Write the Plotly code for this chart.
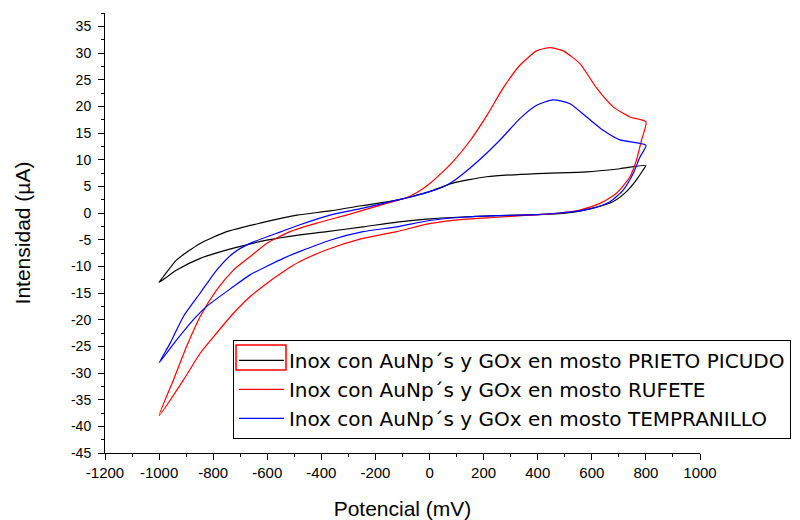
import plotly.graph_objects as go

# PRIETO PICUDO (black): forward then return scan
pp_x = [-1000, -985, -935, -848, -750, -627, -490, -368, -246, -120, 0, 86, 211, 396, 581, 704, 800,
        790, 765, 728, 678, 604, 544, 480, 400, 250, 100, 0, -120, -246, -380, -479, -602, -725, -848, -935, -1000]
pp_y = [-13.0, -12.0, -8.8, -5.7, -3.5, -1.9, -0.4, 0.4, 1.4, 2.4, 4.0, 5.6, 6.8, 7.4, 7.7, 8.3, 8.9,
        8.1, 6.2, 4.0, 2.1, 0.9, 0.25, -0.1, -0.3, -0.5, -0.8, -1.1, -1.7, -2.6, -3.5, -4.1, -5.1, -6.6, -8.5, -10.7, -13.0]

# RUFETE (red)
ru_x = [-1000, -947, -898, -848, -787, -725, -664, -602, -516, -417, -300, -200, -122, -70, -35, 0, 40, 86, 149, 211,
        272, 334, 396, 445, 494, 556, 618, 679, 741, 800,
        784, 765, 741, 691, 630, 556, 480, 400, 250, 123, 0, -122, -257, -380, -479, -541, -602, -664, -725, -787,
        -848, -910, -1000]
ru_y = [-38.0, -31.3, -25.0, -19.4, -14.4, -10.7, -8.2, -5.7, -3.5, -1.9, -0.3, 1.2, 2.3, 3.2, 4.2, 5.5, 7.3, 9.6, 13.5, 18.2,
        23.4, 27.7, 30.4, 31.0, 30.4, 28.0, 23.4, 19.9, 18.0, 17.1,
        13.7, 9.9, 6.8, 3.7, 1.8, 0.56, 0.0, -0.3, -0.8, -1.2, -2.0, -3.5, -4.9, -6.9, -9.1, -11.0, -13.2, -15.7, -18.8, -22.5,
        -26.3, -31.3, -38.0]

# TEMPRANILLO (blue)
te_x = [-1000, -959, -910, -848, -787, -725, -664, -565, -479, -368, -246, -122, -72, 0, 63, 86, 149, 211, 272, 334, 396,
        457, 519, 581, 642, 704, 800,
        778, 753, 716, 667, 605, 540, 480, 400, 250, 123, 0, -122, -246, -368, -479, -541, -602, -664, -725, -824, -873,
        -935, -1000]
te_y = [-28.1, -24.4, -19.4, -15.0, -10.7, -7.5, -5.7, -3.8, -2.2, -0.4, 0.9, 2.4, 3.0, 4.0, 5.2, 5.9, 8.4, 11.2, 14.3, 17.7, 20.2,
        21.2, 20.5, 18.0, 15.5, 13.7, 12.7,
        10.5, 7.4, 4.3, 2.1, 0.9, 0.3, 0.0, -0.3, -0.5, -0.8, -1.4, -2.6, -3.5, -5.1, -7.2, -8.5, -10.0, -11.6, -13.8, -17.5, -20.0,
        -23.8, -28.1]

names = ["Inox con AuNp´s y GOx en mosto PRIETO PICUDO",
         "Inox con AuNp´s y GOx en mosto RUFETE",
         "Inox con AuNp´s y GOx en mosto TEMPRANILLO"]
colors = ["#000000", "#ff0000", "#0000ff"]

x_tickvals = [-1200, -1000, -800, -600, -400, -200, 0, 200, 400, 600, 800, 1000]
x_ticktext = ["-1200", "-1000", "-800", "-600", "-400", "-200", "0", "200", "400", "600", "800", "1000"]
y_tickvals = [-45, -40, -35, -30, -25, -20, -15, -10, -5, 0, 5, 10, 15, 20, 25, 30, 35]
y_ticktext = ["-45", "-40", "-35", "-30", "-25", "-20", "-15", "-10", "-5", "0", "5", "10", "15", "20", "25", "30", "35"]

fig = go.Figure()
for (xs, ys), name, c in zip([(pp_x, pp_y), (ru_x, ru_y), (te_x, te_y)], names, colors):
    fig.add_trace(go.Scatter(x=xs, y=ys, mode="lines", name=name,
                             line=dict(color=c, width=1.2, shape="spline", smoothing=0.6)))

font = "Liberation Sans, Arial, sans-serif"
fig.update_layout(
    width=800, height=520,
    margin=dict(l=105, r=100, t=13, b=67, autoexpand=False),
    paper_bgcolor="white", plot_bgcolor="white",
    font=dict(family=font, color="#000000"),
    showlegend=True,
    legend=dict(x=0.215, y=0.257, xanchor="left", yanchor="top",
                bordercolor="#000000", borderwidth=1, bgcolor="rgba(0,0,0,0)",
                itemwidth=45,
                font=dict(size=20, family="DejaVu Sans, Verdana, sans-serif"), tracegroupgap=0),
    xaxis=dict(range=[-1200, 1000], tickmode="array", tickvals=x_tickvals, ticktext=x_ticktext,
               showgrid=False, zeroline=False, automargin=False,
               showline=True, linecolor="#000000", linewidth=1,
               ticks="outside", ticklen=6, tickcolor="#000000",
               minor=dict(dtick=100, tick0=0, ticks="outside", ticklen=3, tickcolor="#000000"),
               tickfont=dict(size=15, family=font),
               title=dict(text="Potencial (mV)", font=dict(size=21, family=font), standoff=24)),
    yaxis=dict(range=[-45, 37.5], tickmode="array", tickvals=y_tickvals, ticktext=y_ticktext,
               showgrid=False, zeroline=False, automargin=False,
               showline=True, linecolor="#000000", linewidth=1,
               ticks="outside", ticklen=6, tickcolor="#000000",
               minor=dict(dtick=2.5, tick0=0, ticks="outside", ticklen=3, tickcolor="#000000"),
               tickfont=dict(size=14, family=font), ticklabelstandoff=4,
               title=dict(text="Intensidad (µA)", font=dict(size=21, family=font), standoff=34)),
)
fig.add_shape(type="rect", xref="paper", yref="paper", x0=0.2202, x1=0.3042, y0=0.1886, y1=0.2455,
              line=dict(color="#ff0000", width=1.5))
fig.write_html("out.html")
